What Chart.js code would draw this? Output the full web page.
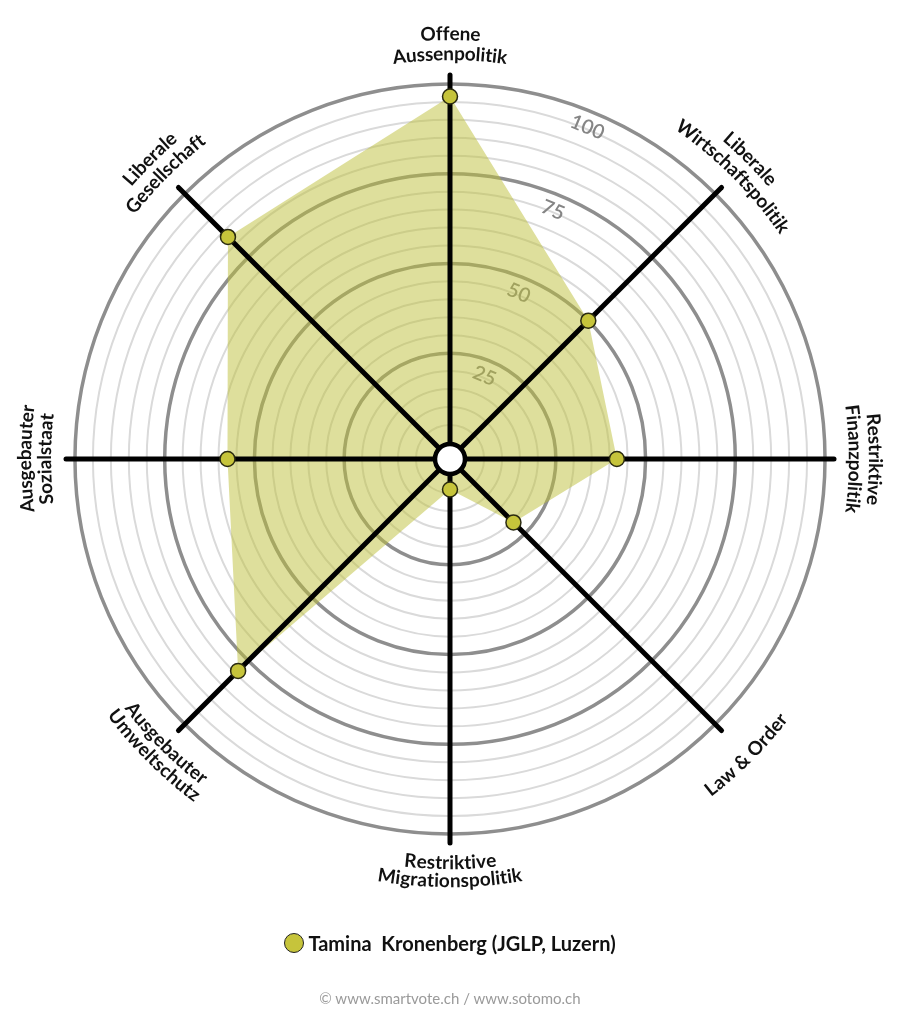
<!DOCTYPE html>
<html>
<head>
<meta charset="utf-8">
<script src="https://cdn.jsdelivr.net/npm/chart.js@4/dist/chart.umd.min.js"></script>
<style>
  body { margin: 0; background: #fff; }
  #wrap { position: relative; width: 900px; height: 1024px; }
  #graf { position: absolute; left: 0; top: 0; }
  #legend { position: absolute; top: 931px; left: 0; width: 900px; display: flex; justify-content: center; align-items: center; font: bold 20px Lato, sans-serif; color: #111; white-space: pre; }
  #legend .dot { width: 18px; height: 18px; border-radius: 50%; border: 1.5px solid #222; margin-right: 4px; }
  #footer { position: absolute; top: 989px; left: 0; width: 900px; text-align: center; font: 15px Lato, sans-serif; color: #9a9a9a; }
</style>
</head>
<body>
<div id="wrap">
  <canvas id="graf" width="900" height="1024"></canvas>
  <div id="legend"></div>
  <div id="footer">© www.smartvote.ch / www.sotomo.ch</div>
</div>
<script>
const axisLabels = [
  ['Offene', 'Aussenpolitik'],
  ['Liberale', 'Wirtschaftspolitik'],
  ['Restriktive', 'Finanzpolitik'],
  ['Law & Order'],
  ['Restriktive', 'Migrationspolitik'],
  ['Ausgebauter', 'Umweltschutz'],
  ['Ausgebauter', 'Sozialstaat'],
  ['Liberale', 'Gesellschaft']
]
const candidate = 'Tamina  Kronenberg (JGLP, Luzern)'
const values = [96.5, 50, 42, 20.5, 4, 79, 57.5, 83]
const tickLabels = [25, 50, 75, 100]

const pointColor = '#c6c43b'
const fillColor = 'rgba(190,192,58,0.5)'

const graph = document.getElementById('graf')

// legend as html
const legend = document.getElementById('legend')
const dot = document.createElement('span')
dot.className = 'dot'
dot.style.background = pointColor
legend.appendChild(dot)
legend.appendChild(document.createTextNode(candidate))

function arcText(ctx, text, cx, cy, R, ang, outward){
  const total = ctx.measureText(text).width
  let acc = 0
  for (const ch of text){
    const w = ctx.measureText(ch).width
    const d = (acc + w/2 - total/2)/R
    const a = outward ? ang + d : ang - d
    ctx.save()
    ctx.translate(cx + R*Math.cos(a), cy + R*Math.sin(a))
    ctx.rotate(outward ? a + Math.PI/2 : a - Math.PI/2)
    ctx.fillText(ch, 0, 0)
    ctx.restore()
    acc += w
  }
}

const spiderExtras = {
  id: 'spiderExtras',
  beforeDatasetsDraw(chart){
    // tick numbers, under the fill
    const s = chart.scales.r
    const ctx = chart.ctx
    const a = -Math.PI/2 + Math.PI/8
    ctx.save()
    ctx.fillStyle = '#858585'
    ctx.font = '600 20px Lato, sans-serif'
    ctx.textAlign = 'center'
    ctx.textBaseline = 'middle'
    tickLabels.forEach(v => {
      const r = s.getDistanceFromCenterForValue(v) - 16
      ctx.save()
      ctx.translate(s.xCenter + r*Math.cos(a), s.yCenter + r*Math.sin(a))
      ctx.rotate(Math.PI/8)
      ctx.fillText(String(v), 0, 0)
      ctx.restore()
    })
    ctx.restore()
  },
  afterDatasetDraw(chart, args){
    if (args.index !== 1) return
    // axis lines over the fill, under the points
    const s = chart.scales.r
    const ctx = chart.ctx
    ctx.save()
    ctx.strokeStyle = '#000'
    ctx.lineWidth = 5
    ctx.lineCap = 'round'
    for (let i = 0; i < axisLabels.length; i++){
      const p = s.getPointPositionForValue(i, s.max)
      ctx.beginPath()
      ctx.moveTo(s.xCenter, s.yCenter)
      ctx.lineTo(p.x, p.y)
      ctx.stroke()
    }
    ctx.beginPath()
    ctx.arc(s.xCenter, s.yCenter, 15, 0, Math.PI*2)
    ctx.fillStyle = '#fff'
    ctx.fill()
    ctx.lineWidth = 4.5
    ctx.stroke()
    ctx.restore()
  },
  afterDraw(chart){
    const s = chart.scales.r
    const ctx = chart.ctx
    ctx.save()
    ctx.fillStyle = '#111'
    ctx.font = 'bold 19px Lato, sans-serif'
    ctx.textAlign = 'center'
    ctx.textBaseline = 'middle'
    axisLabels.forEach((lines, i) => {
      const ang = i*Math.PI/4 - Math.PI/2
      const outward = !(i >= 3 && i <= 5)
      let radii
      if (lines.length === 1) radii = [421]
      else radii = outward ? [425, 405] : [404, 422]
      lines.forEach((t, j) => arcText(ctx, t, s.xCenter, s.yCenter, radii[j], ang, outward))
    })
    ctx.restore()
  }
}

new Chart(graph, {
  type: 'radar',
  data: {
    labels: axisLabels,
    datasets: [{
      label: candidate,
      data: values,
      showLine: false,
      fill: false,
      borderWidth: 0,
      pointRadius: 7.5,
      pointHoverRadius: 7.5,
      pointBackgroundColor: pointColor,
      pointBorderColor: '#2a2a10',
      pointBorderWidth: 1.5
    }, {
      label: candidate,
      data: values,
      fill: 'start',
      backgroundColor: fillColor,
      borderWidth: 0,
      borderColor: 'rgba(0,0,0,0)',
      pointRadius: 0
    }]
  },
  options: {
    responsive: false,
    animation: false,
    layout: { padding: { top: 75, bottom: 181, left: 66, right: 66 } },
    plugins: { legend: { display: false }, tooltip: { enabled: false } },
    scales: {
      r: {
        min: -4.5,
        max: 102.5,
        afterBuildTicks(scale){
          const t = [{value: -4.5}]
          for (let v = 0; v <= 100; v += 5) t.push({value: v})
          t.push({value: 102.5})
          scale.ticks = t
        },
        ticks: { display: false },
        pointLabels: { display: false },
        angleLines: { display: false },
        grid: {
          circular: true,
          color(ctx){
            const v = ctx.tick ? ctx.tick.value : 0
            if (v <= 0 || v > 100) return 'rgba(0,0,0,0)'
            return v % 25 === 0 ? '#8e8e8e' : '#dadada'
          },
          lineWidth(ctx){
            const v = ctx.tick ? ctx.tick.value : 0
            return v % 25 === 0 ? 3.5 : 2
          }
        }
      }
    }
  },
  plugins: [spiderExtras]
})
</script>
</body>
</html>
